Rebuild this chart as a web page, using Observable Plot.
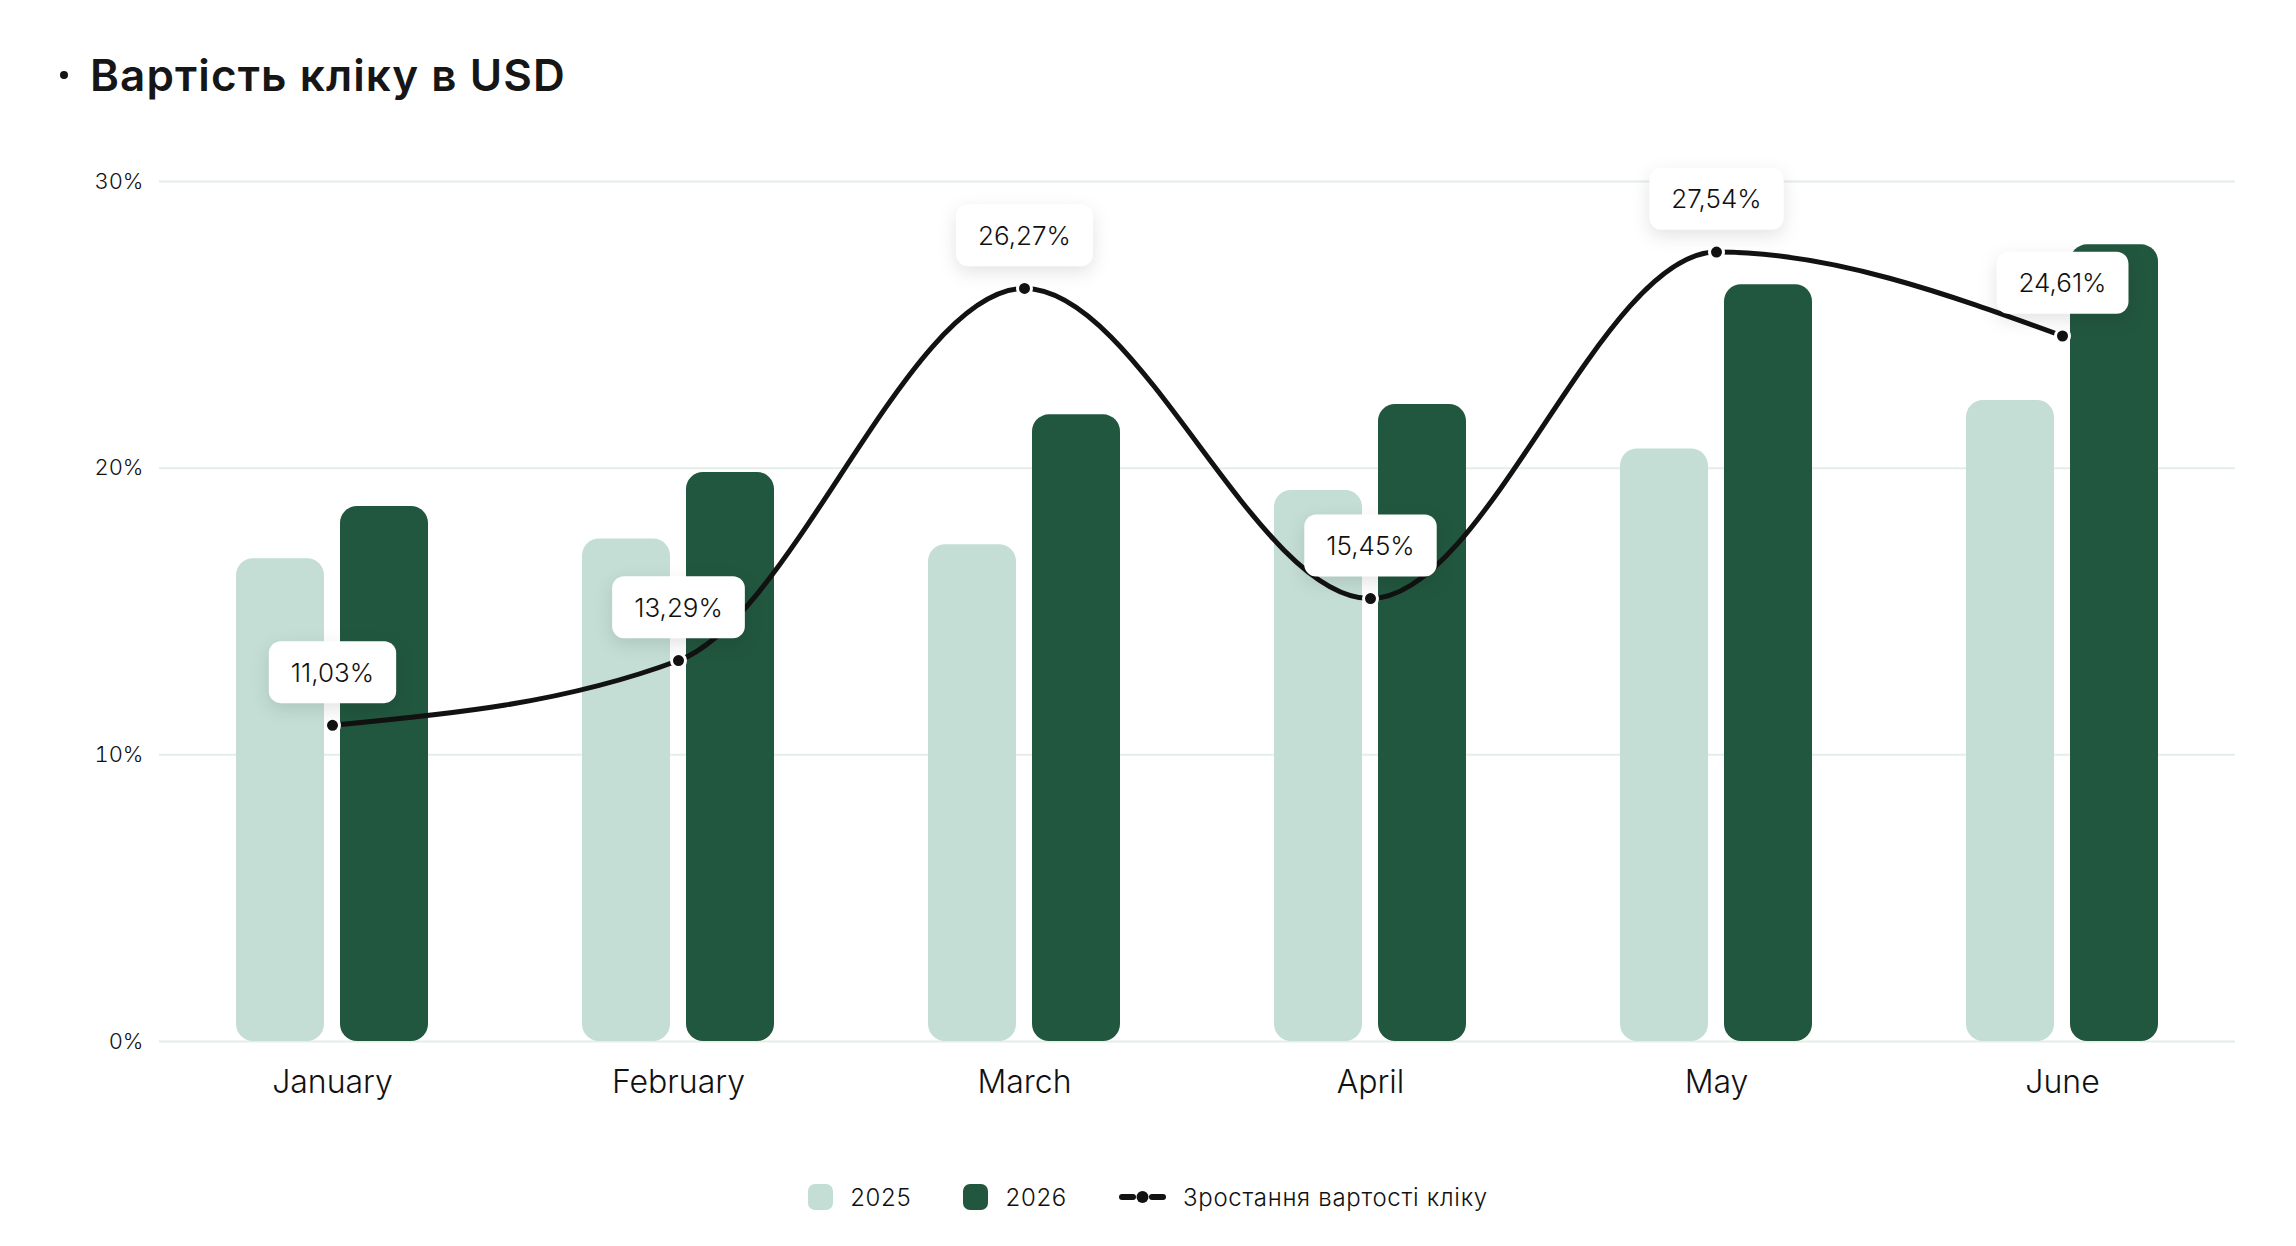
<!DOCTYPE html>
<html>
<head>
<meta charset="utf-8">
<script src="https://cdn.jsdelivr.net/npm/d3@7"></script>
<script src="https://cdn.jsdelivr.net/npm/@observablehq/plot@0.6"></script>
<style>
  html, body { margin: 0; padding: 0; background: #fff; width: 2296px; height: 1246px; overflow: hidden; }
  body { font-family: Inter, "Noto Sans", sans-serif; color: #111; position: relative; }
  #title { position: absolute; left: 90px; top: 53px; font-size: 44px; font-weight: 600; line-height: 44px; letter-spacing: 1.1px; color: #161616; white-space: nowrap; }
  #bullet { position: absolute; left: 60px; top: 71px; width: 8px; height: 8px; border-radius: 50%; background: #161616; }
  #chart { position: absolute; left: 0; top: 120px; }
  #legend { position: absolute; left: 0; top: 1182px; width: 2296px; height: 30px; display: flex; justify-content: center; align-items: center; font-size: 24px; font-weight: 300; letter-spacing: 0.7px; color: #111; }
  .item { display: flex; align-items: center; margin: 0 26px; }
  .item svg { margin-right: 17px; }
</style>
</head>
<body>
<div id="bullet"></div>
<div id="title">Вартість кліку в USD</div>
<div id="chart"></div>
<div id="legend"></div>
<script>
// ---- data ----
const months = ["January", "February", "March", "April", "May", "June"];
const values2025 = [16.84, 17.53, 17.33, 19.22, 20.67, 22.36];
const values2026 = [18.66, 19.85, 21.86, 22.22, 26.40, 27.79];
const growth = [11.03, 13.29, 26.27, 15.45, 27.54, 24.61];
const yTicks = [0, 10, 20, 30];
const seriesNames = ["2025", "2026"];
const lineName = "Зростання вартості кліку";

const colorLight = "#c4ded5";
const colorDark = "#22573f";
const colorLine = "#121212";
const textColor = "#111";

const rows2025 = months.map((m, i) => ({month: m, value: values2025[i]}));
const rows2026 = months.map((m, i) => ({month: m, value: values2026[i]}));
const rowsGrowth = months.map((m, i) => ({month: m, growth: growth[i]}));

const W = 2296, H = 1001;
const mL = 159, mR = 61, mT = 61, mB = 80;
const step = (W - mL - mR) / months.length;
const c = step / 2, barW = 88, gap = 16;
const fmt = v => v.toFixed(2).replace(".", ",") + "%";

const plot = Plot.plot({
  width: W, height: H,
  marginLeft: mL, marginRight: mR, marginTop: mT, marginBottom: mB,
  style: {fontFamily: "Inter, 'Noto Sans', sans-serif", fontSize: "22px", fontWeight: 300, color: textColor, background: "transparent"},
  x: {type: "band", domain: months, padding: 0},
  y: {domain: [0, 30]},
  marks: [
    Plot.gridY(yTicks, {stroke: "#e3eee6", strokeOpacity: 1, strokeWidth: 2}),
    Plot.axisY({ticks: yTicks, tickFormat: d => d + "%", tickSize: 0, tickPadding: 16, fontSize: 22, fontWeight: 300, fill: textColor, label: null}),
    Plot.axisX({tickSize: 0, tickPadding: 29, fontSize: 32, fontWeight: 300, fill: textColor, label: null}),
    Plot.barY(rows2025, {x: "month", y: "value", fill: colorLight, rx: 17,
      insetLeft: c - gap / 2 - barW, insetRight: c + gap / 2}),
    Plot.barY(rows2026, {x: "month", y: "value", fill: colorDark, rx: 17,
      insetLeft: c + gap / 2, insetRight: c - gap / 2 - barW}),
    Plot.line(rowsGrowth, {x: "month", y: "growth", curve: "monotone-x", stroke: colorLine, strokeWidth: 5}),
    Plot.dot(rowsGrowth, {x: "month", y: "growth", r: 7, fill: colorLine, stroke: "white", strokeWidth: 3}),
    Plot.text(rowsGrowth, {x: "month", y: "growth", text: d => fmt(d.growth), dy: -52, fontSize: 26, fontWeight: 300, fill: textColor})
  ]
});
document.getElementById("chart").appendChild(plot);

// rounded white boxes with a soft shadow behind each growth label
const textGroups = plot.querySelectorAll('g[aria-label="text"]');
const labelGroup = textGroups[textGroups.length - 1];
if (labelGroup) {
  labelGroup.querySelectorAll("text").forEach(t => {
    const b = t.getBBox();
    const padX = 22, boxH = 62;
    const cy = b.y + b.height / 2;
    const r = document.createElementNS("http://www.w3.org/2000/svg", "rect");
    r.setAttribute("x", b.x - padX);
    r.setAttribute("y", cy - boxH / 2);
    r.setAttribute("width", b.width + 2 * padX);
    r.setAttribute("height", boxH);
    r.setAttribute("rx", 12);
    r.setAttribute("fill", "white");
    r.style.filter = "drop-shadow(0px 6px 9px rgba(0,0,0,0.11))";
    const tr = t.getAttribute("transform");
    if (tr) r.setAttribute("transform", tr);
    t.parentNode.insertBefore(r, t);
  });
}

// legend
const legend = document.getElementById("legend");
function swatch(color) {
  return `<svg width="25" height="26"><rect x="0" y="0" width="25" height="26" rx="7" fill="${color}"/></svg>`;
}
legend.innerHTML =
  `<div class="item">${swatch(colorLight)}<span>${seriesNames[0]}</span></div>` +
  `<div class="item">${swatch(colorDark)}<span>${seriesNames[1]}</span></div>` +
  `<div class="item"><svg width="47" height="26">
     <line x1="3" y1="13" x2="14" y2="13" stroke="${colorLine}" stroke-width="6" stroke-linecap="round"/>
     <line x1="33" y1="13" x2="44" y2="13" stroke="${colorLine}" stroke-width="6" stroke-linecap="round"/>
     <circle cx="23.5" cy="13" r="6" fill="${colorLine}"/>
   </svg><span>${lineName}</span></div>`;
</script>
</body>
</html>
